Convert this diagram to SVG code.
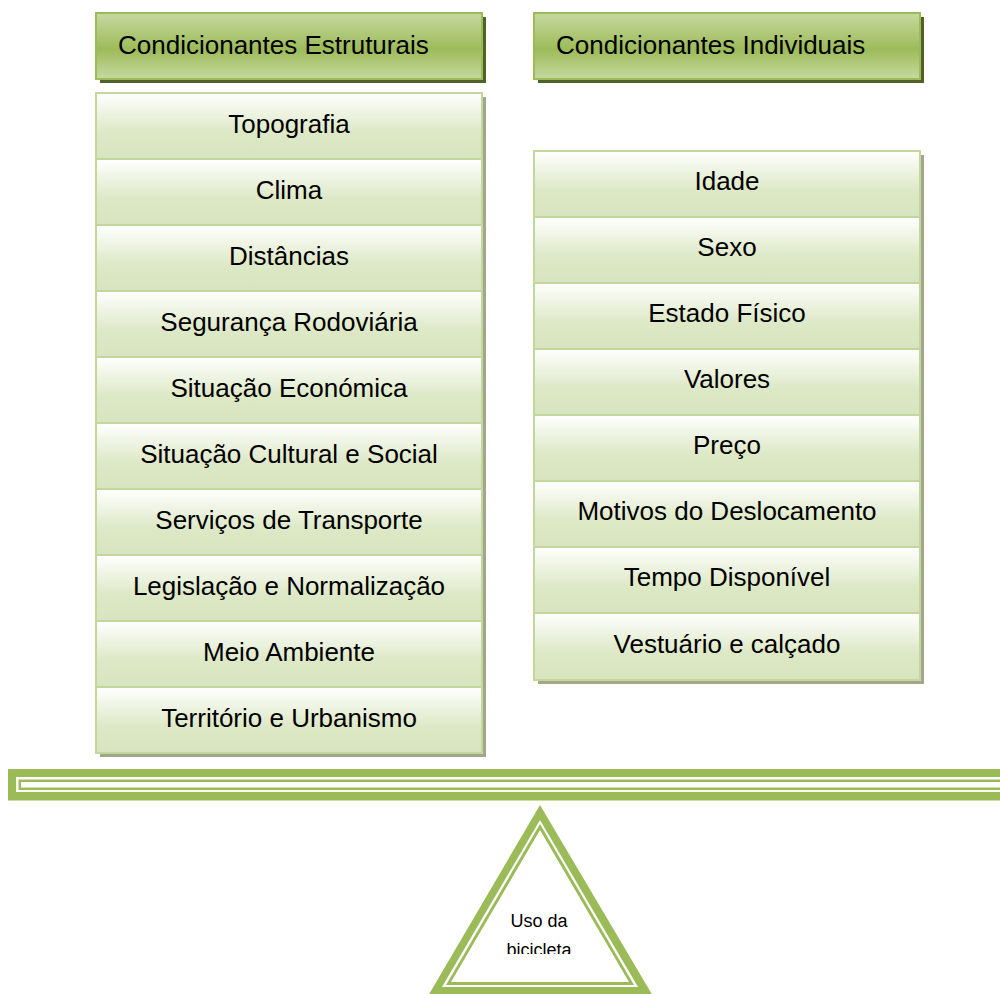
<svg xmlns="http://www.w3.org/2000/svg" width="1000" height="994" viewBox="0 0 1000 994">
<defs>
<linearGradient id="hdr" x1="0" y1="0" x2="0" y2="1">
<stop offset="0" stop-color="#c6d9a1"/>
<stop offset="0.55" stop-color="#9dbb59"/>
<stop offset="1" stop-color="#c6d9a1"/>
</linearGradient>
<linearGradient id="itm" x1="0" y1="0" x2="0" y2="1">
<stop offset="0" stop-color="#ffffff"/>
<stop offset="0.6" stop-color="#dde8c6"/>
<stop offset="1" stop-color="#d8e4bf"/>
</linearGradient>
<clipPath id="triclip"><rect x="420" y="800" width="240" height="154"/></clipPath>
</defs>
<style>
.hdr{fill:url(#hdr);stroke:#9bbb59;stroke-width:2}
.hsh{fill:#4f6228}
.itm{fill:url(#itm);stroke:#c3d69b;stroke-width:2}
.ish{fill:#a3a68c}
text{font-family:"Liberation Sans","DejaVu Sans",sans-serif;fill:#000}
.ht{font-size:26px}
.it{font-size:26px;text-anchor:middle}
.tt{font-size:18px;text-anchor:middle}
.g{fill:#9bbb59}
</style>
<rect width="1000" height="994" fill="#fff"/>

<g id="hdr-estruturais">
<rect class="hsh" x="100" y="17" width="386" height="66"/>
<rect class="hdr" x="96" y="13" width="386" height="66"/>
<text class="ht" x="118" y="54">Condicionantes Estruturais</text>
</g>
<g id="hdr-individuais">
<rect class="hsh" x="538" y="17" width="386" height="66"/>
<rect class="hdr" x="534" y="13" width="386" height="66"/>
<text class="ht" x="556" y="54">Condicionantes Individuais</text>
</g>

<g id="list-estruturais">
<rect class="ish" x="100" y="97" width="386" height="660"/>
<g id="e1"><rect class="itm" x="96" y="93" width="386" height="66"/><text class="it" x="289" y="133">Topografia</text></g>
<g id="e2"><rect class="itm" x="96" y="159" width="386" height="66"/><text class="it" x="289" y="199">Clima</text></g>
<g id="e3"><rect class="itm" x="96" y="225" width="386" height="66"/><text class="it" x="289" y="265">Distâncias</text></g>
<g id="e4"><rect class="itm" x="96" y="291" width="386" height="66"/><text class="it" x="289" y="331">Segurança Rodoviária</text></g>
<g id="e5"><rect class="itm" x="96" y="357" width="386" height="66"/><text class="it" x="289" y="397">Situação Económica</text></g>
<g id="e6"><rect class="itm" x="96" y="423" width="386" height="66"/><text class="it" x="289" y="463">Situação Cultural e Social</text></g>
<g id="e7"><rect class="itm" x="96" y="489" width="386" height="66"/><text class="it" x="289" y="529">Serviços de Transporte</text></g>
<g id="e8"><rect class="itm" x="96" y="555" width="386" height="66"/><text class="it" x="289" y="595">Legislação e Normalização</text></g>
<g id="e9"><rect class="itm" x="96" y="621" width="386" height="66"/><text class="it" x="289" y="661">Meio Ambiente</text></g>
<g id="e10"><rect class="itm" x="96" y="687" width="386" height="66"/><text class="it" x="289" y="727">Território e Urbanismo</text></g>
</g>

<g id="list-individuais">
<rect class="ish" x="538" y="155" width="386" height="529"/>
<g id="i1"><rect class="itm" x="534" y="151" width="386" height="66"/><text class="it" x="727" y="190">Idade</text></g>
<g id="i2"><rect class="itm" x="534" y="217" width="386" height="66"/><text class="it" x="727" y="256">Sexo</text></g>
<g id="i3"><rect class="itm" x="534" y="283" width="386" height="66"/><text class="it" x="727" y="322">Estado Físico</text></g>
<g id="i4"><rect class="itm" x="534" y="349" width="386" height="66"/><text class="it" x="727" y="388">Valores</text></g>
<g id="i5"><rect class="itm" x="534" y="415" width="386" height="66"/><text class="it" x="727" y="454">Preço</text></g>
<g id="i6"><rect class="itm" x="534" y="481" width="386" height="66"/><text class="it" x="727" y="520">Motivos do Deslocamento</text></g>
<g id="i7"><rect class="itm" x="534" y="547" width="386" height="66"/><text class="it" x="727" y="586">Tempo Disponível</text></g>
<g id="i8"><rect class="itm" x="534" y="613" width="386" height="67"/><text class="it" x="727" y="653">Vestuário e calçado</text></g>
</g>

<g id="beam">
<rect class="g" x="8" y="769" width="992" height="31"/>
<rect fill="#fff" x="16" y="777" width="984" height="15"/>
<rect class="g" x="18.5" y="779.5" width="981.5" height="10.5"/>
<rect fill="#fff" x="21" y="782" width="979" height="5.5"/>
<rect fill="#c9dba6" x="8" y="800" width="992" height="1"/>
</g>

<g id="fulcrum">
<polygon points="540,805 428,996 653,996" fill="#9bbb59"/>
<polygon points="540,820 442,987 638,987" fill="#fff"/>
<polygon points="540,824 446,985 634,985" fill="#9bbb59"/>
<polygon points="540,830 451,982 629,982" fill="#fff"/>
<g clip-path="url(#triclip)">
<text class="tt" x="539" y="927">Uso da</text>
<text class="tt" x="539" y="956">bicicleta</text>
</g>
</g>
</svg>
